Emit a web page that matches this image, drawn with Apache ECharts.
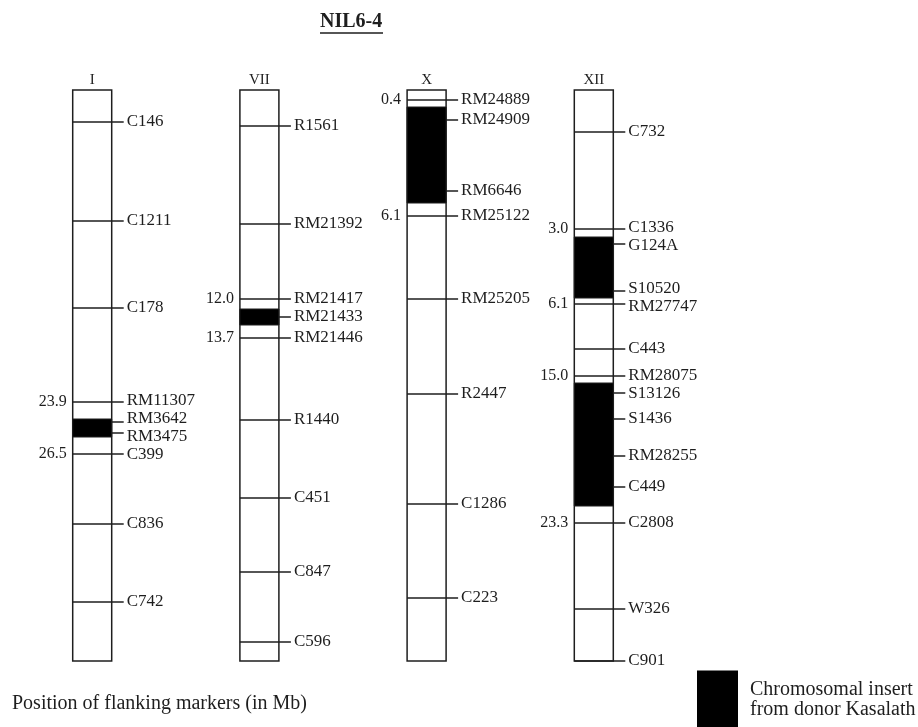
<!DOCTYPE html>
<html>
<head>
<meta charset="utf-8">
<script src="https://cdn.jsdelivr.net/npm/echarts@6/dist/echarts.min.js"></script>
<style>html,body{margin:0;padding:0;background:#fff;}#chart{width:918px;height:727px;}</style>
</head>
<body>
<div id="chart"></div>
<script>
// ---- Data (positions are relative positions along each chromosome drawing, 0 = top, 571 = bottom) ----
const chromosomes = ['I', 'VII', 'X', 'XII'];
const chromLength = [571, 571, 571, 571];

const markersI = ['C146', 'C1211', 'C178', 'RM11307', 'RM3642', 'RM3475', 'C399', 'C836', 'C742'];
const posI     = [32, 131, 218, 312, 332, 343, 364, 434, 512];
const flankMarkersI = ['RM11307', 'C399'];
const flankValuesI  = [23.9, 26.5];
const insertsI = [[329, 347]];

const markersVII = ['R1561', 'RM21392', 'RM21417', 'RM21433', 'RM21446', 'R1440', 'C451', 'C847', 'C596'];
const posVII     = [36, 134, 209, 227, 248, 330, 408, 482, 552];
const flankMarkersVII = ['RM21417', 'RM21446'];
const flankValuesVII  = [12.0, 13.7];
const insertsVII = [[219, 235]];

const markersX = ['RM24889', 'RM24909', 'RM6646', 'RM25122', 'RM25205', 'R2447', 'C1286', 'C223'];
const posX     = [10, 30, 101, 126, 209, 304, 414, 508];
const flankMarkersX = ['RM24889', 'RM25122'];
const flankValuesX  = [0.4, 6.1];
const insertsX = [[17, 113]];

const markersXII = ['C732', 'C1336', 'G124A', 'S10520', 'RM27747', 'C443', 'RM28075', 'S13126', 'S1436', 'RM28255', 'C449', 'C2808', 'W326', 'C901'];
const posXII     = [42, 139, 154, 201, 214, 259, 286, 303, 329, 366, 397, 433, 519, 571];
const flankMarkersXII = ['C1336', 'RM27747', 'RM28075', 'C2808'];
const flankValuesXII  = [3.0, 6.1, 15.0, 23.3];
const insertsXII = [[147, 208], [293, 416]];

const titleText = 'NIL6-4';
const noteText = 'Position of flanking markers (in Mb)';
const insertName = 'Chromosomal insert\nfrom donor Kasalath';

// ---- assemble ----
const allMarkers = [markersI, markersVII, markersX, markersXII];
const allPos = [posI, posVII, posX, posXII];
const allFlankMarkers = [flankMarkersI, flankMarkersVII, flankMarkersX, flankMarkersXII];
const allFlankValues = [flankValuesI, flankValuesVII, flankValuesX, flankValuesXII];
const allInserts = [insertsI, insertsVII, insertsX, insertsXII];

const chromData = chromosomes.map((c, i) => [i, chromLength[i]]);
const insertData = [];
allInserts.forEach((arr, i) => arr.forEach(seg => insertData.push([i, seg[0], seg[1]])));

const FONT = '"Liberation Serif", "Times New Roman", serif';
const INK = '#1e1e1e';
const HALF_W = 19.5;
const TICK_EXT = 12;

function spreadLabels(ys, minGap) {
  const out = ys.slice();
  for (let iter = 0; iter < 30; iter++) {
    let moved = false;
    for (let k = 1; k < out.length; k++) {
      const d = out[k] - out[k - 1];
      if (d < minGap) {
        const shift = (minGap - d) / 2;
        out[k - 1] -= shift; out[k] += shift; moved = true;
      }
    }
    if (!moved) break;
  }
  return out;
}

function renderChrom(params, api) {
  const i = api.value(0);
  const len = api.value(1);
  const top = api.coord([i, 0]);
  const bot = api.coord([i, len]);
  const cx = top[0];
  const left = cx - HALF_W, right = cx + HALF_W;
  const children = [];
  children.push({
    type: 'rect',
    shape: { x: left, y: top[1], width: HALF_W * 2, height: bot[1] - top[1] },
    style: { fill: '#fff', stroke: INK, lineWidth: 1.5 }
  });
  children.push({
    type: 'text',
    style: { text: chromosomes[i], x: cx, y: top[1] - 2, align: 'center', verticalAlign: 'bottom', fill: INK, font: '15px ' + FONT }
  });
  const names = allMarkers[i], pos = allPos[i];
  const ys = pos.map(p => api.coord([i, p])[1]);
  const labelYs = spreadLabels(ys, 18);
  names.forEach((nm, k) => {
    children.push({
      type: 'line',
      shape: { x1: left, y1: ys[k], x2: right + TICK_EXT, y2: ys[k] },
      style: { stroke: INK, lineWidth: 1.5 }
    });
    children.push({
      type: 'text',
      style: { text: nm, x: right + TICK_EXT + 3, y: labelYs[k], align: 'left', verticalAlign: 'middle', fill: INK, font: '17px ' + FONT }
    });
    const fIdx = allFlankMarkers[i].indexOf(nm);
    if (fIdx >= 0) {
      children.push({
        type: 'text',
        style: { text: allFlankValues[i][fIdx].toFixed(1), x: left - 6, y: ys[k], align: 'right', verticalAlign: 'middle', fill: INK, font: '16px ' + FONT }
      });
    }
  });
  return { type: 'group', children: children };
}

function renderInsert(params, api) {
  const i = api.value(0);
  const a = api.coord([i, api.value(1)]);
  const b = api.coord([i, api.value(2)]);
  return {
    type: 'rect',
    shape: { x: a[0] - HALF_W, y: a[1], width: HALF_W * 2, height: b[1] - a[1] },
    style: { fill: '#000', stroke: INK, lineWidth: 1 }
  };
}

const chart = echarts.init(document.getElementById('chart'), null, { renderer: 'canvas' });
chart.setOption({
  backgroundColor: '#fff',
  animation: false,
  title: [
    { text: titleText, left: 320, top: 12, padding: 0,
      textStyle: { fontFamily: FONT, fontWeight: 'bold', fontSize: 20, color: INK } },
    { text: noteText, left: 12, top: 694, padding: 0,
      textStyle: { fontFamily: FONT, fontWeight: 'normal', fontSize: 20, color: INK } }
  ],
  graphic: [
    { type: 'line', shape: { x1: 320, y1: 33, x2: 383, y2: 33 }, style: { stroke: INK, lineWidth: 1.5 } }
  ],
  legend: {
    data: [insertName],
    left: 697, top: 669, padding: 0,
    orient: 'vertical',
    icon: 'rect',
    itemWidth: 41, itemHeight: 58,
    selectedMode: false,
    textStyle: { fontFamily: FONT, fontSize: 20, color: INK, lineHeight: 20, padding: [21, 0, 0, 7] }
  },
  grid: { left: 8.6, width: 836, top: 90, height: 571 },
  xAxis: { type: 'value', min: -0.5, max: 4.5, show: false },
  yAxis: { type: 'value', min: 0, max: 571, inverse: true, show: false },
  series: [
    { type: 'custom', name: 'chromosomes', renderItem: renderChrom, data: chromData, clip: false, z: 2,
      encode: { x: 0, y: 1 } },
    { type: 'custom', name: insertName, renderItem: renderInsert, data: insertData, clip: false, z: 3,
      itemStyle: { color: '#000' }, encode: { x: 0, y: [1, 2] } }
  ]
});
</script>
</body>
</html>
